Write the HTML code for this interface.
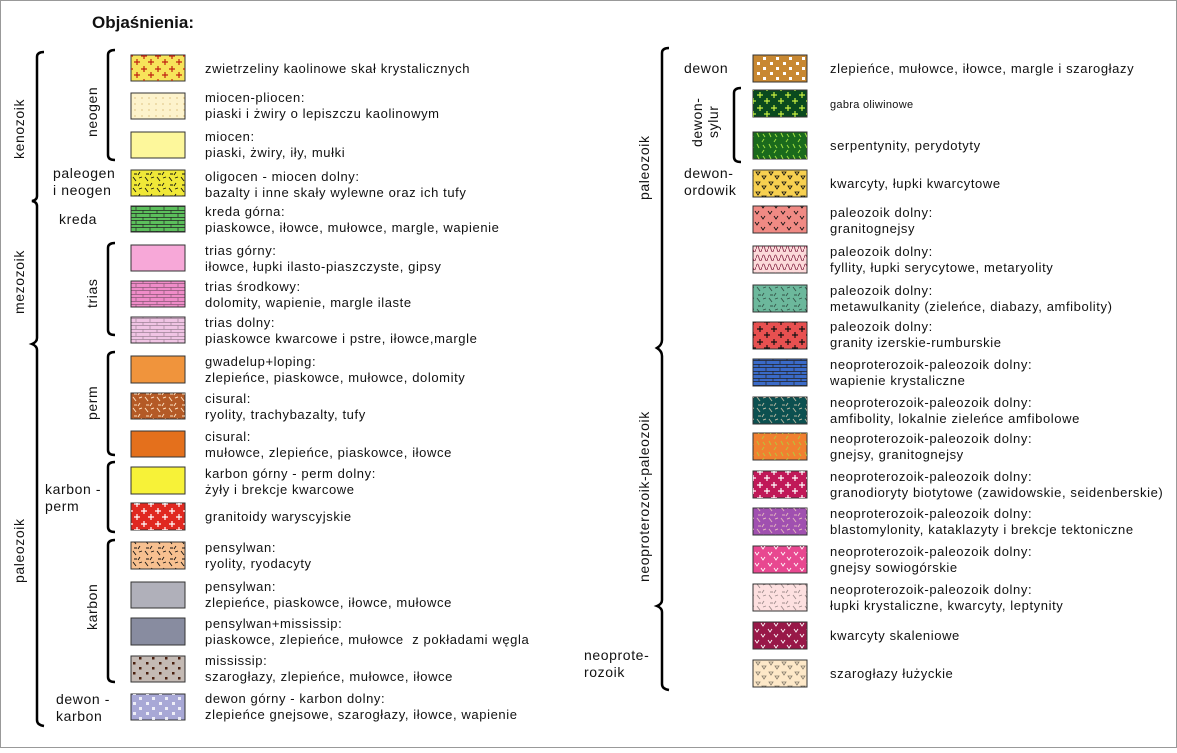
<!DOCTYPE html>
<html><head><meta charset="utf-8"><style>
html,body{margin:0;padding:0;background:#fff}
svg text{font-family:"Liberation Sans",Arial,sans-serif;font-size:13px;fill:#111;letter-spacing:0.6px}
</style></head><body>
<svg width="1177" height="748" xmlns="http://www.w3.org/2000/svg">
<defs>
<pattern id="cross" width="14" height="13" patternUnits="userSpaceOnUse"><path d="M4 1v6M1 4h6M11 7v6M8 10h6" stroke="#c02010" stroke-width="1.2"/></pattern>
<pattern id="crossW" width="14" height="13" patternUnits="userSpaceOnUse"><path d="M4 1v6M1 4h6M11 7v6M8 10h6" stroke="#fff" stroke-width="1.2"/></pattern>
<pattern id="crossG" width="14" height="13" patternUnits="userSpaceOnUse"><path d="M4 1v6M1 4h6M11 7v6M8 10h6" stroke="#c8f040" stroke-width="1.2"/></pattern>
<pattern id="crossK" width="14" height="13" patternUnits="userSpaceOnUse"><path d="M4 1v6M1 4h6M11 7v6M8 10h6" stroke="#111" stroke-width="1.2"/></pattern>
<pattern id="dots" width="7" height="6" patternUnits="userSpaceOnUse"><circle cx="2" cy="2" r="0.6" fill="#c8a050"/></pattern>
<pattern id="dashK" width="12" height="11" patternUnits="userSpaceOnUse"><path d="M1 1l3 4M7 2l3-1M8 7l-2 3M2 9h3" stroke="#111" stroke-width="0.9"/></pattern>
<pattern id="dashW" width="12" height="11" patternUnits="userSpaceOnUse"><path d="M1 1l3 4M7 2l3-1M8 7l-2 3M2 9h3" stroke="#fde0c0" stroke-width="1"/></pattern>
<pattern id="dashL" width="12" height="11" patternUnits="userSpaceOnUse"><path d="M1 1l2 4M7 2l2 3M8 7l-2 3" stroke="#a0e040" stroke-width="1"/></pattern>
<pattern id="brick" width="14" height="7" patternUnits="userSpaceOnUse"><path d="M0 0.5h14M0 3.5h14M3 0v3.5M10 3.5v3.5" stroke="#222" stroke-width="0.7"/></pattern>
<pattern id="sqW" width="13" height="10" patternUnits="userSpaceOnUse"><rect x="3" y="2" width="3" height="3" fill="#fff"/><rect x="9" y="7" width="3" height="3" fill="#fff"/></pattern>
<pattern id="sqK" width="13" height="10" patternUnits="userSpaceOnUse"><rect x="3" y="2" width="2.5" height="2.5" fill="#4a2010"/><rect x="9" y="7" width="2.5" height="2.5" fill="#4a2010"/></pattern>
<pattern id="tri" width="13" height="10" patternUnits="userSpaceOnUse"><path d="M2 2l4 0-2 3z M8 6l4 0-2 3z" fill="none" stroke="#111" stroke-width="0.8"/></pattern>
<pattern id="wave" width="6" height="9" patternUnits="userSpaceOnUse"><path d="M0 6q1.5-6 3 0t3 0" fill="none" stroke="#802040" stroke-width="0.8"/></pattern>
<pattern id="vee" width="13" height="11" patternUnits="userSpaceOnUse"><path d="M1 2l2 3 2-3M7 7l2 3 2-3" fill="none" stroke="#111" stroke-width="0.9"/></pattern>
<pattern id="veeW" width="13" height="11" patternUnits="userSpaceOnUse"><path d="M1 2l2 3 2-3M7 7l2 3 2-3" fill="none" stroke="#fff" stroke-width="0.9"/></pattern>
</defs>
<rect x="0.5" y="0.5" width="1176" height="747" fill="#fff" stroke="#999"/>
<text x="92" y="28" style="font-size:17px;font-weight:bold;letter-spacing:0">Objaśnienia:</text>

<g fill="none" stroke="#000" stroke-width="2.5">
<path d="M44 52q-7 0-7 5V196q0 4-5 5q5 1 5 5"/>
<path d="M37 206V338q0 4-5 6q5 2 5 6"/>
<path d="M37 350V720q0 5 7 6"/>
<path d="M115 50q-7 0-7 5V155q0 5 7 5"/>
<path d="M115 243q-7 0-7 5V330q0 5 7 5"/>
<path d="M115 352q-7 0-7 5V450q0 5 7 5"/>
<path d="M115 462q-7 0-7 5V527q0 5 7 5"/>
<path d="M115 540q-7 0-7 5V677q0 5 7 5"/>
<path d="M669 48q-7 0-7 5V340q0 5-5 8q5 3 5 8V600q0 4-5 6q5 2 5 6V684q0 5 7 6"/>
<path d="M741 88q-7 0-7 5V157q0 5 7 5"/>
</g>

<g transform="rotate(-90)">
<text x="-159" y="24" style="font-size:14px">kenozoik</text>
<text x="-314" y="24" style="font-size:14px">mezozoik</text>
<text x="-583" y="24" style="font-size:14px">paleozoik</text>
<text x="-137" y="97" style="font-size:14px">neogen</text>
<text x="-308" y="97" style="font-size:14px">trias</text>
<text x="-420" y="97" style="font-size:14px">perm</text>
<text x="-630" y="97" style="font-size:14px">karbon</text>
<text x="-200" y="649" style="font-size:14px">paleozoik</text>
<text x="-582" y="649" style="font-size:14px">neoproterozoik-paleozoik</text>
<text x="-147" y="702" style="font-size:14px">dewon-</text>
<text x="-138" y="718" style="font-size:14px">sylur</text>
</g>
<g>
<text x="53" y="178" style="font-size:14px">paleogen</text>
<text x="53" y="195" style="font-size:14px">i neogen</text>
<text x="59" y="224" style="font-size:14px">kreda</text>
<text x="45" y="494" style="font-size:14px">karbon -</text>
<text x="45" y="511" style="font-size:14px">perm</text>
<text x="56" y="704" style="font-size:14px">dewon -</text>
<text x="56" y="721" style="font-size:14px">karbon</text>
<text x="684" y="73" style="font-size:14px">dewon</text>
<text x="684" y="178" style="font-size:14px">dewon-</text>
<text x="684" y="195" style="font-size:14px">ordowik</text>
<text x="584" y="660" style="font-size:14px">neoprote-</text>
<text x="584" y="677" style="font-size:14px">rozoik</text>
</g>

<g stroke="#333" stroke-width="1">
<rect x="131" y="55" width="54" height="26" fill="#f7e35a"/><rect x="131" y="55" width="54" height="26" fill="url(#cross)" stroke="none"/>
<rect x="131" y="93" width="54" height="26" fill="#fdf3cc"/><rect x="131" y="93" width="54" height="26" fill="url(#dots)" stroke="none"/>
<rect x="131" y="132" width="54" height="26" fill="#fdf79b"/>
<rect x="131" y="170" width="54" height="26" fill="#f0e838"/><rect x="131" y="170" width="54" height="26" fill="url(#dashK)" stroke="none"/>
<rect x="131" y="206" width="54" height="26" fill="#5cbf5c"/><rect x="131" y="206" width="54" height="26" fill="url(#brick)" stroke="none"/>
<rect x="131" y="245" width="54" height="26" fill="#f7a8d8"/>
<rect x="131" y="281" width="54" height="26" fill="#ef8cc8"/><rect x="131" y="281" width="54" height="26" fill="url(#brick)" stroke="none" opacity=".5"/>
<rect x="131" y="317" width="54" height="26" fill="#f0c4e4"/><rect x="131" y="317" width="54" height="26" fill="url(#brick)" stroke="none" opacity=".4"/>
<rect x="131" y="356" width="54" height="27" fill="#f0943c"/>
<rect x="131" y="393" width="54" height="26" fill="#b45a26"/><rect x="131" y="393" width="54" height="26" fill="url(#dashW)" stroke="none"/>
<rect x="131" y="431" width="54" height="26" fill="#e4701c"/>
<rect x="131" y="467" width="54" height="27" fill="#f7f238"/>
<rect x="131" y="503" width="54" height="27" fill="#e02820"/><rect x="131" y="503" width="54" height="27" fill="url(#crossW)" stroke="none"/>
<rect x="131" y="542" width="54" height="27" fill="#f7c090"/><rect x="131" y="542" width="54" height="27" fill="url(#dashK)" stroke="none"/>
<rect x="131" y="582" width="54" height="26" fill="#b0b0ba"/>
<rect x="131" y="618" width="54" height="27" fill="#888ca0"/>
<rect x="131" y="656" width="54" height="26" fill="#c4bab4"/><rect x="131" y="656" width="54" height="26" fill="url(#sqK)" stroke="none"/>
<rect x="131" y="694" width="54" height="26" fill="#a8a8d6"/><rect x="131" y="694" width="54" height="26" fill="url(#sqW)" stroke="none" opacity=".8"/>
<rect x="753" y="55" width="54" height="27" fill="#c88832"/><rect x="753" y="55" width="54" height="27" fill="url(#sqW)" stroke="none"/>
<rect x="753" y="90" width="54" height="27" fill="#0a4a1e"/><rect x="753" y="90" width="54" height="27" fill="url(#crossG)" stroke="none"/>
<rect x="753" y="132" width="54" height="27" fill="#1a6a1c"/><rect x="753" y="132" width="54" height="27" fill="url(#dashL)" stroke="none"/>
<rect x="753" y="170" width="54" height="27" fill="#f7d050"/><rect x="753" y="170" width="54" height="27" fill="url(#tri)" stroke="none"/>
<rect x="753" y="206" width="54" height="27" fill="#f08a84"/><rect x="753" y="206" width="54" height="27" fill="url(#vee)" stroke="none"/>
<rect x="753" y="246" width="54" height="27" fill="#fcdada"/><rect x="753" y="246" width="54" height="27" fill="url(#wave)" stroke="none"/>
<rect x="753" y="285" width="54" height="27" fill="#6cb89c"/><rect x="753" y="285" width="54" height="27" fill="url(#dashK)" stroke="none" opacity=".6"/>
<rect x="753" y="322" width="54" height="27" fill="#e85050"/><rect x="753" y="322" width="54" height="27" fill="url(#crossK)" stroke="none"/>
<rect x="753" y="359" width="54" height="27" fill="#3a6ac8"/><rect x="753" y="359" width="54" height="27" fill="url(#brick)" stroke="none"/>
<rect x="753" y="397" width="54" height="27" fill="#0c5050"/><rect x="753" y="397" width="54" height="27" fill="url(#dashW)" stroke="none" opacity=".7"/>
<rect x="753" y="433" width="54" height="27" fill="#f08030"/><rect x="753" y="433" width="54" height="27" fill="url(#dashL)" stroke="none" opacity=".7"/>
<rect x="753" y="471" width="54" height="27" fill="#c01858"/><rect x="753" y="471" width="54" height="27" fill="url(#crossW)" stroke="none"/>
<rect x="753" y="508" width="54" height="27" fill="#a050b0"/><rect x="753" y="508" width="54" height="27" fill="url(#dashW)" stroke="none" opacity=".7"/>
<rect x="753" y="546" width="54" height="27" fill="#e84890"/><rect x="753" y="546" width="54" height="27" fill="url(#veeW)" stroke="none"/>
<rect x="753" y="584" width="54" height="27" fill="#fde0e0"/><rect x="753" y="584" width="54" height="27" fill="url(#dashK)" stroke="none" opacity=".4"/>
<rect x="753" y="622" width="54" height="27" fill="#981848"/><rect x="753" y="622" width="54" height="27" fill="url(#veeW)" stroke="none"/>
<rect x="753" y="660" width="54" height="27" fill="#fde8c8"/><rect x="753" y="660" width="54" height="27" fill="url(#tri)" stroke="none" opacity=".5"/>
</g>

<g>
<text x="205" y="73">zwietrzeliny kaolinowe skał krystalicznych</text>
<text x="205" y="102">miocen-pliocen:</text><text x="205" y="118">piaski i żwiry o lepiszczu kaolinowym</text>
<text x="205" y="141">miocen:</text><text x="205" y="157">piaski, żwiry, iły, mułki</text>
<text x="205" y="181">oligocen - miocen dolny:</text><text x="205" y="197">bazalty i inne skały wylewne oraz ich tufy</text>
<text x="205" y="216">kreda górna:</text><text x="205" y="232">piaskowce, iłowce, mułowce, margle, wapienie</text>
<text x="205" y="255">trias górny:</text><text x="205" y="271">iłowce, łupki ilasto-piaszczyste, gipsy</text>
<text x="205" y="291">trias środkowy:</text><text x="205" y="307">dolomity, wapienie, margle ilaste</text>
<text x="205" y="327">trias dolny:</text><text x="205" y="343">piaskowce kwarcowe i pstre, iłowce,margle</text>
<text x="205" y="366">gwadelup+loping:</text><text x="205" y="382">zlepieńce, piaskowce, mułowce, dolomity</text>
<text x="205" y="403">cisural:</text><text x="205" y="419">ryolity, trachybazalty, tufy</text>
<text x="205" y="441">cisural:</text><text x="205" y="457">mułowce, zlepieńce, piaskowce, iłowce</text>
<text x="205" y="478">karbon górny - perm dolny:</text><text x="205" y="494">żyły i brekcje kwarcowe</text>
<text x="205" y="521">granitoidy waryscyjskie</text>
<text x="205" y="552">pensylwan:</text><text x="205" y="568">ryolity, ryodacyty</text>
<text x="205" y="591">pensylwan:</text><text x="205" y="607">zlepieńce, piaskowce, iłowce, mułowce</text>
<text x="205" y="628">pensylwan+mississip:</text><text x="205" y="644" xml:space="preserve">piaskowce, zlepieńce, mułowce  z pokładami węgla</text>
<text x="205" y="665">mississip:</text><text x="205" y="681">szarogłazy, zlepieńce, mułowce, iłowce</text>
<text x="205" y="703">dewon górny - karbon dolny:</text><text x="205" y="719">zlepieńce gnejsowe, szarogłazy, iłowce, wapienie</text>

<text x="830" y="73">zlepieńce, mułowce, iłowce, margle i szarogłazy</text>
<text x="830" y="108" style="font-size:11px;letter-spacing:0.3px">gabra oliwinowe</text>
<text x="830" y="150">serpentynity, perydotyty</text>
<text x="830" y="188">kwarcyty, łupki kwarcytowe</text>
<text x="830" y="217">paleozoik dolny:</text><text x="830" y="233">granitognejsy</text>
<text x="830" y="256">paleozoik dolny:</text><text x="830" y="272">fyllity, łupki serycytowe, metaryolity</text>
<text x="830" y="295">paleozoik dolny:</text><text x="830" y="311">metawulkanity (zieleńce, diabazy, amfibolity)</text>
<text x="830" y="331">paleozoik dolny:</text><text x="830" y="347">granity izerskie-rumburskie</text>
<text x="830" y="369">neoproterozoik-paleozoik dolny:</text><text x="830" y="385">wapienie krystaliczne</text>
<text x="830" y="407">neoproterozoik-paleozoik dolny:</text><text x="830" y="423">amfibolity, lokalnie zieleńce amfibolowe</text>
<text x="830" y="443">neoproterozoik-paleozoik dolny:</text><text x="830" y="459">gnejsy, granitognejsy</text>
<text x="830" y="481">neoproterozoik-paleozoik dolny:</text><text x="830" y="497">granodioryty biotytowe (zawidowskie, seidenberskie)</text>
<text x="830" y="518">neoproterozoik-paleozoik dolny:</text><text x="830" y="534">blastomylonity, kataklazyty i brekcje tektoniczne</text>
<text x="830" y="556">neoproterozoik-paleozoik dolny:</text><text x="830" y="572">gnejsy sowiogórskie</text>
<text x="830" y="594">neoproterozoik-paleozoik dolny:</text><text x="830" y="610">łupki krystaliczne, kwarcyty, leptynity</text>
<text x="830" y="640">kwarcyty skaleniowe</text>
<text x="830" y="678">szarogłazy łużyckie</text>
</g>
</svg>
</body></html>
